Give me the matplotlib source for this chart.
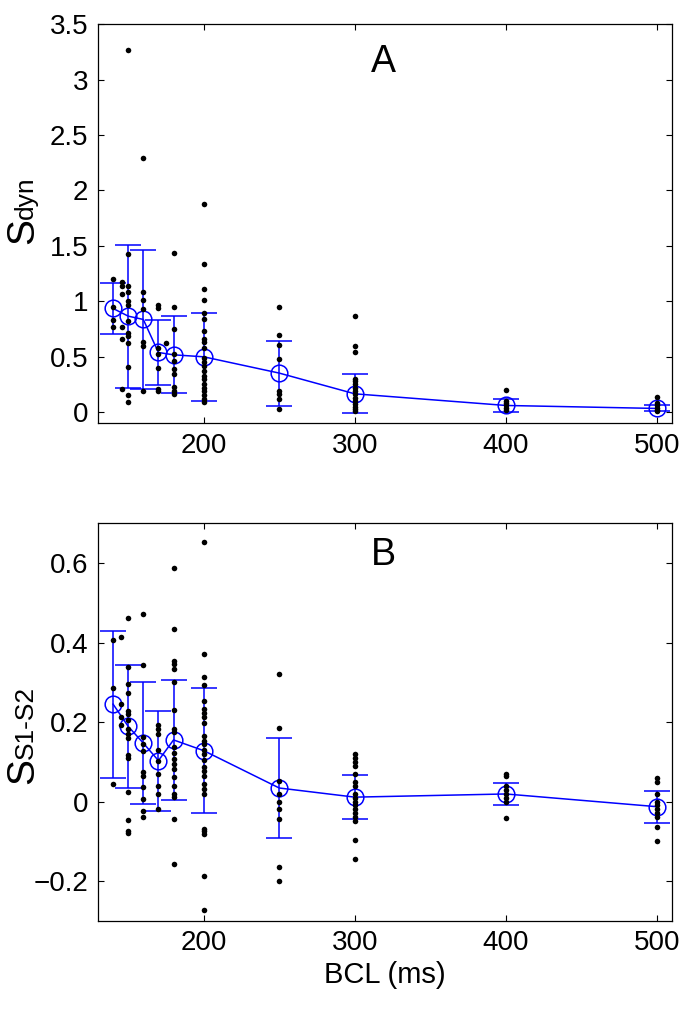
import matplotlib
matplotlib.use('Agg')
import matplotlib.pyplot as plt

plt.rcParams['font.family'] = ['Liberation Sans', 'DejaVu Sans']

# BCL values with a mean +/- sd point
bcl = [140, 150, 160, 170, 180, 200, 250, 300, 400, 500]

# panel A: S_dyn
sdyn_mean = [0.935, 0.866, 0.836, 0.538, 0.517, 0.499, 0.352, 0.165, 0.06, 0.033]
sdyn_sd = [0.23, 0.645, 0.628, 0.295, 0.348, 0.395, 0.293, 0.175, 0.055, 0.027]
sdyn_pts = {
    140: [1.20, 0.83, 0.77, 0.95],
    146: [1.17, 1.14, 1.07, 0.77, 0.66, 0.21],
    150: [3.27, 1.43, 1.14, 1.08, 1.0, 0.97, 0.82, 0.71, 0.69, 0.62, 0.41, 0.15, 0.09],
    160: [2.29, 1.08, 1.01, 0.93, 0.63, 0.60, 0.19],
    170: [0.97, 0.94, 0.58, 0.52, 0.40, 0.21, 0.19],
    175: [0.62],
    180: [1.44, 0.95, 0.75, 0.52, 0.46, 0.39, 0.34, 0.23, 0.19, 0.16],
    200: [1.88, 1.34, 1.11, 1.01, 0.89, 0.84, 0.73, 0.66, 0.63, 0.58, 0.49, 0.45,
          0.42, 0.37, 0.33, 0.30, 0.25, 0.22, 0.19, 0.15, 0.12, 0.09],
    250: [0.95, 0.70, 0.61, 0.48, 0.19, 0.16, 0.12, 0.03],
    300: [0.87, 0.60, 0.54, 0.30, 0.28, 0.25, 0.22, 0.19, 0.16, 0.13, 0.10, 0.07, 0.05, 0.03, 0.01],
    400: [0.20, 0.10, 0.08, 0.06, 0.04, 0.02],
    500: [0.14, 0.08, 0.06, 0.04, 0.02, 0.01],
}

# panel B: S_S1-S2
ss12_mean = [0.245, 0.189, 0.147, 0.103, 0.155, 0.128, 0.034, 0.011, 0.019, -0.013]
ss12_sd = [0.185, 0.155, 0.154, 0.126, 0.152, 0.158, 0.127, 0.056, 0.028, 0.04]
ss12_pts = {
    140: [0.407, 0.286, 0.044],
    145: [0.415, 0.245, 0.212, 0.193],
    150: [0.461, 0.339, 0.296, 0.272, 0.227, 0.219, 0.204, 0.183, 0.170, 0.160,
          0.116, 0.110, 0.023, -0.046, -0.073, -0.080],
    160: [0.472, 0.343, 0.162, 0.145, 0.128, 0.074, 0.063, 0.036, 0.007, -0.023, -0.038],
    170: [0.193, 0.183, 0.170, 0.130, 0.103, 0.068, 0.038, 0.019, -0.020],
    180: [0.587, 0.435, 0.354, 0.346, 0.333, 0.302, 0.230, 0.183, 0.174, 0.137,
          0.122, 0.107, 0.095, 0.082, 0.061, 0.040, 0.019, 0.011, -0.044, -0.157],
    200: [0.652, 0.372, 0.314, 0.293, 0.254, 0.233, 0.223, 0.212, 0.197, 0.166,
          0.153, 0.145, 0.130, 0.120, 0.105, 0.086, 0.078, 0.063, 0.044, 0.032,
          0.019, -0.069, -0.075, -0.081, -0.188, -0.274],
    250: [0.322, 0.185, 0.051, 0.019, 0.0, -0.018, -0.044, -0.165, -0.201],
    300: [0.12, 0.11, 0.10, 0.09, 0.07, 0.05, 0.04, 0.02, 0.01, 0.0, -0.01, -0.02,
          -0.03, -0.04, -0.05, -0.098, -0.144],
    400: [0.07, 0.064, 0.04, 0.03, 0.02, 0.01, 0.0, -0.041],
    500: [0.059, 0.05, 0.02, 0.0, -0.01, -0.02, -0.03, -0.04, -0.065, -0.1],
}

fig = plt.figure(figsize=(7, 10.1), dpi=100)
axA = fig.add_axes([0.14, 0.581, 0.82, 0.395])
axB = fig.add_axes([0.14, 0.0884, 0.82, 0.3934])
renderer = fig.canvas.get_renderer()


def ylabel_with_sub(sub, xf, yf):
    # big "S" with a small, same-baseline suffix (as in the original figure)
    s = fig.text(xf, yf, 'S', rotation=90, rotation_mode='anchor',
                 ha='left', va='baseline', fontsize=28)
    bb = s.get_window_extent(renderer)
    y1 = fig.transFigure.inverted().transform((0, bb.y1))[1]
    fig.text(xf, y1 - 0.001, sub, rotation=90, rotation_mode='anchor',
             ha='left', va='baseline', fontsize=19)


def draw_panel(ax, mean, sd, pts, letter, ylim, yticks, yticklabels):
    ax.errorbar(bcl, mean, yerr=sd, fmt='-o', color='blue', mfc='none', mec='blue',
                ms=12, mew=1.1, lw=1.1, elinewidth=1.1, capsize=9.5, capthick=1.1, zorder=2)
    for x, vals in pts.items():
        ax.plot([x] * len(vals), vals, 'o', color='black', ms=4, mew=0, zorder=3)
    ax.set_xlim(130, 510)
    ax.set_ylim(*ylim)
    ax.set_xticks([200, 300, 400, 500])
    ax.set_yticks(yticks)
    ax.set_yticklabels(yticklabels)
    ax.tick_params(direction='in', top=True, right=True, length=4.5, width=0.8,
                   labelsize=20, pad=7)
    for s in ax.spines.values():
        s.set_linewidth(0.9)
    ax.text(0.497, 0.905 if letter == 'A' else 0.92, letter, transform=ax.transAxes,
            ha='center', va='center', fontsize=27)


draw_panel(axA, sdyn_mean, sdyn_sd, sdyn_pts, 'A',
           (-0.1, 3.5), [0, 0.5, 1, 1.5, 2, 2.5, 3, 3.5],
           ['0', '0.5', '1', '1.5', '2', '2.5', '3', '3.5'])
draw_panel(axB, ss12_mean, ss12_sd, ss12_pts, 'B',
           (-0.3, 0.7), [-0.2, 0, 0.2, 0.4, 0.6],
           ['\u22120.2', '0', '0.2', '0.4', '0.6'])
axB.set_xlabel('BCL (ms)', fontsize=21, labelpad=3)

ylabel_with_sub('dyn', 33 / 700, 1 - 244 / 1010)
ylabel_with_sub('S1-S2', 33 / 700, 1 - 784 / 1010)

fig.savefig('out.png', dpi=100)
